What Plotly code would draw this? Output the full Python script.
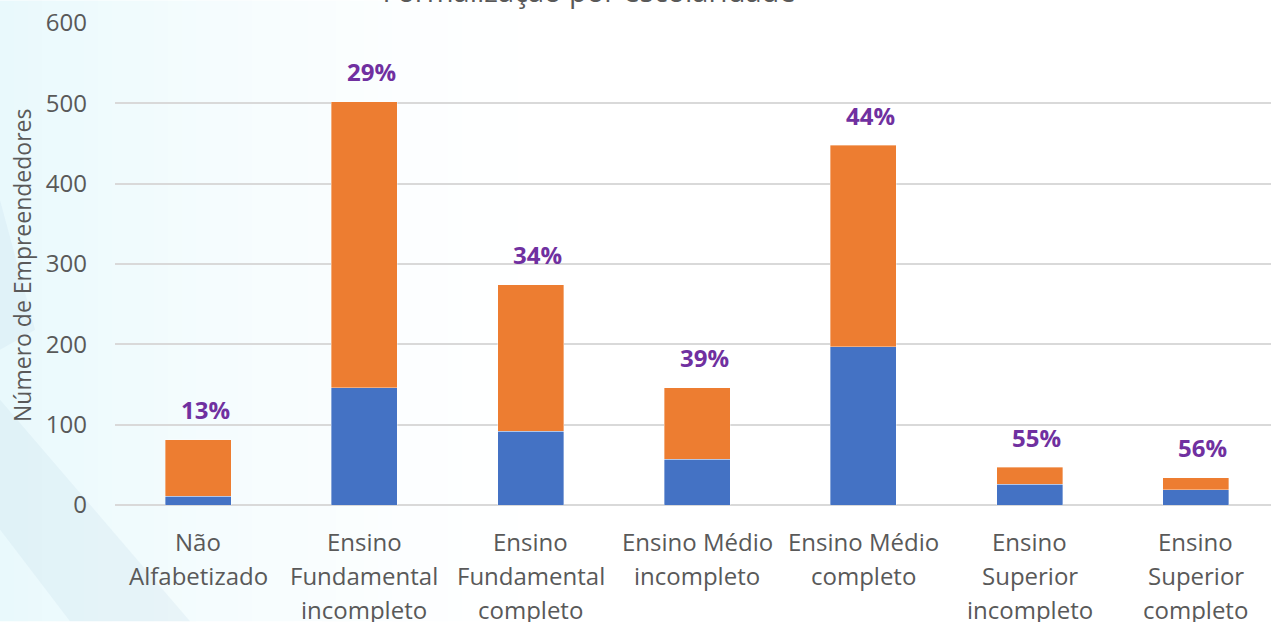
import plotly.graph_objects as go

categories = ["Não<br>Alfabetizado", "Ensino<br>Fundamental<br>incompleto", "Ensino<br>Fundamental<br>completo",
              "Ensino Médio<br>incompleto", "Ensino Médio<br>completo", "Ensino<br>Superior<br>incompleto",
              "Ensino<br>Superior<br>completo"]
formal = [11, 146, 92, 57, 197, 26, 19]
informal = [70, 356, 182, 89, 251, 21, 15]
pct_labels = ["13%", "29%", "34%", "39%", "44%", "55%", "56%"]
title_text = "Formalização por escolaridade"
y_title = "Número de Empreendedores"

W, H = 1271, 622
L, T, B = 115, 22.5, 505.5
PW, PH = W - L, B - T
FONT = "Open Sans"
GREY = "#595959"

def px(x):
    return (x - L) / PW

def py(y):
    return (B - y) / PH

x_idx = list(range(len(categories)))
fig = go.Figure()
fig.add_trace(go.Bar(x=x_idx, y=formal, marker=dict(color="#4472C4", line=dict(color="rgba(255,255,255,0.6)", width=0.6)), name="Formal"))
fig.add_trace(go.Bar(x=x_idx, y=informal, marker=dict(color="#ED7D31", line=dict(color="rgba(255,255,255,0.6)", width=0.6)), name="Informal"))

totals = [a + b for a, b in zip(formal, informal)]
annotations = []
for i, (t, lab) in enumerate(zip(totals, pct_labels)):
    annotations.append(dict(x=i, y=t, xref="x", yref="y", text="<b>" + lab + "</b>", showarrow=False,
                            yshift=30, xshift=7, font=dict(family=FONT, size=24, color="#7030A0")))
# category labels, one line each (line spacing as in reference)
for i, cat in enumerate(categories):
    for j, line in enumerate(cat.split("<br>")):
        annotations.append(dict(x=i, y=py(542 + 34 * j), xref="x", yref="paper", text=line, showarrow=False,
                                xanchor="center", yanchor="middle", font=dict(family=FONT, size=24, color=GREY)))
annotations.append(dict(x=px(22), y=py(266), xref="paper", yref="paper", text=y_title, textangle=-90, showarrow=False,
                        xanchor="center", yanchor="middle", font=dict(family=FONT, size=23, color=GREY)))

# soft background tint on the left (smooth fade)
shapes = []
n = 40
for k in range(n):
    x0 = k * 14
    op = 0.55 * (1 - k / n) ** 1.6
    shapes.append(dict(type="rect", xref="paper", yref="paper", x0=px(x0), x1=px(x0 + 14), y0=py(H), y1=py(0),
                       fillcolor="rgba(215,244,250,%.3f)" % op, line=dict(width=0), layer="below"))
shapes.append(dict(type="path", xref="paper", yref="paper",
                   path="M %f %f L %f %f L %f %f L %f %f Z" % (px(0), py(400), px(190), py(622), px(70), py(622), px(0), py(530)),
                   fillcolor="rgba(185,208,230,0.18)", line=dict(width=0), layer="below"))
shapes.append(dict(type="path", xref="paper", yref="paper",
                   path="M %f %f L %f %f L %f %f Z" % (px(0), py(200), px(35), py(330), px(0), py(350)),
                   fillcolor="rgba(175,200,225,0.15)", line=dict(width=0), layer="below"))

fig.update_layout(
    width=W, height=H, barmode="stack", bargap=0.603, showlegend=False,
    paper_bgcolor="white", plot_bgcolor="rgba(0,0,0,0)",
    margin=dict(l=L, r=0, t=T, b=H - B, pad=0),
    annotations=annotations, shapes=shapes,
    font=dict(family=FONT, color=GREY),
    title=dict(text=title_text, x=589 / W, xanchor="center", xref="container", y=1 - 2 / H, yanchor="bottom",
               yref="container", font=dict(family=FONT, size=29, color=GREY)),
)
fig.update_xaxes(tickvals=x_idx, range=[-0.5, -0.5 + PW / 166.3], showticklabels=False,
                 showgrid=False, zeroline=False, showline=False, ticks="")
fig.update_yaxes(range=[0, 600], tickvals=[0, 100, 200, 300, 400, 500, 600],
                 showgrid=True, gridcolor="#D9D9D9", gridwidth=2, zeroline=True, zerolinecolor="#D9D9D9",
                 zerolinewidth=2, showline=False, ticks="",
                 tickfont=dict(family=FONT, size=24, color=GREY), ticklabelstandoff=27)

fig.write_html("out.html")
